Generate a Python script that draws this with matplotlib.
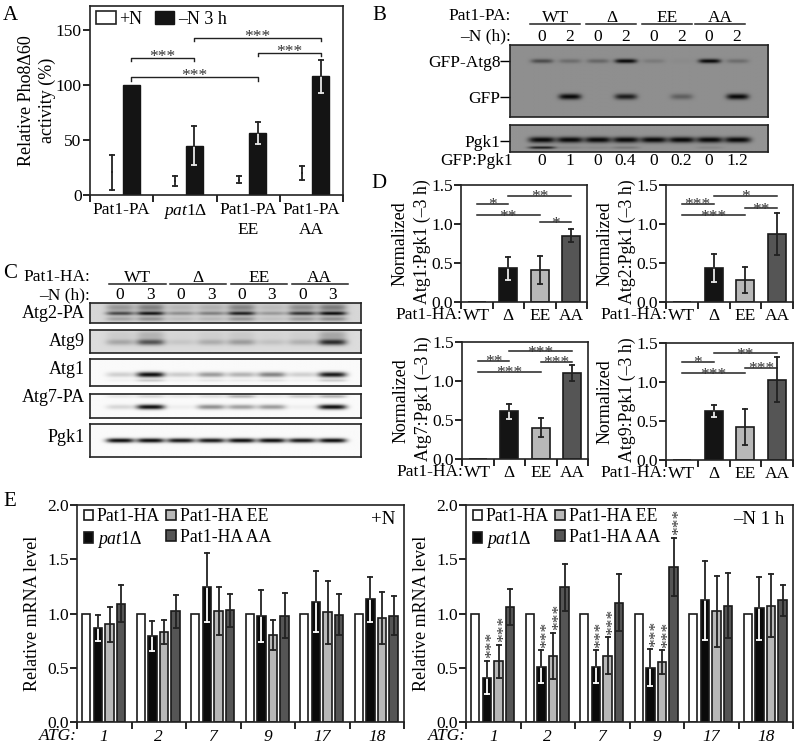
import numpy as np
import matplotlib
matplotlib.use('Agg')
import matplotlib.pyplot as plt
from matplotlib.patches import Patch

plt.rcParams['font.family'] = ['Liberation Serif', 'DejaVu Serif']
plt.rcParams['font.size'] = 12.5
plt.rcParams['mathtext.fontset'] = 'custom'
plt.rcParams['mathtext.it'] = 'Liberation Serif:italic'
plt.rcParams['mathtext.rm'] = 'Liberation Serif'
plt.rcParams['axes.linewidth'] = 1.2
plt.rcParams['axes.edgecolor'] = '#222222'

W, H = 800, 747
PAT1 = r'$\mathit{pat1}$Δ'

# panel A
a_groups = ['Pat1-PA', PAT1, 'Pat1-PA\nEE', 'Pat1-PA\nAA']
a_plus = [20.5, 12.5, 14, 20]
a_plus_err = [15.5, 4.5, 3.5, 6.5]
a_minus = [100, 45, 56, 108]
a_minus_err = [0, 18, 10, 15]
a_brackets = [(0.65, 1.65, 124.5), (0.65, 2.65, 107), (1.65, 3.65, 142.7), (2.65, 3.65, 129.4)]

# panel B, band strength per lane
b_groups = ['WT', 'Δ', 'EE', 'AA']
b_hours = ['0', '2'] * 4
b_ratio = ['0', '1', '0', '0.4', '0', '0.2', '0', '1.2']
b_atg8 = [.5, .25, .3, 1.0, .15, .03, 1.0, .25]
b_gfp = [0, 1, 0, .85, 0, .35, 0, 1]
b_pgk1 = [1, 1, 1, 1, 1, 1, 1, 1]
b_pgk1_low = [.85, .1, .08, .2, 0, 0, .1, 0]

# panel C
c_hours = ['0', '3'] * 4
c_atg2 = [.7, .95, .35, .42, .9, .3, .8, 1.0]
c_atg9 = [.25, .65, .1, .22, .3, .12, .2, .85]
c_atg1 = [.18, 1.0, .2, .4, .3, .5, .18, .95]
c_atg7 = [.15, 1.0, .05, .45, .38, .4, .05, 1.0]
c_atg7_top = [.08, .15, .08, .12, .3, .08, .2, .3]
c_pgk1 = [1, 1, .95, .95, 1, 1, .95, 1]

# panel D
d_groups = ['WT', 'Δ', 'EE', 'AA']
d_atg1 = [0, .43, .41, .85]
d_atg1_err = [0, .15, .18, .08]
d_atg2 = [0, .43, .28, .87]
d_atg2_err = [0, .18, .17, .27]
d_atg7 = [0, .61, .40, 1.10]
d_atg7_err = [0, .10, .12, .10]
d_atg9 = [0, .63, .42, 1.03]
d_atg9_err = [0, .08, .23, .29]
d_atg1_sig = [(.5, 1.5, 1.26, '*'), (1.5, 3.5, 1.36, '**'), (.5, 2.5, 1.115, '**'), (2.5, 3.5, 1.02, '*')]
d_atg2_sig = [(.5, 1.5, 1.26, '***'), (1.5, 3.5, 1.36, '*'), (.5, 2.5, 1.115, '***'), (2.5, 3.5, 1.205, '**')]
d_atg7_sig = [(.5, 1.5, 1.26, '**'), (1.5, 3.5, 1.38, '***'), (.5, 2.5, 1.12, '***'), (2.5, 3.5, 1.25, '***')]
d_atg9_sig = [(.5, 1.5, 1.26, '*'), (1.5, 3.5, 1.37, '**'), (.5, 2.5, 1.115, '***'), (2.5, 3.5, 1.185, '***')]

# panel E
genes = ['1', '2', '7', '9', '17', '18']
e_series = ['Pat1-HA', PAT1, 'Pat1-HA EE', 'Pat1-HA AA']
e_colors = ['white', '#0a0a0a', '#b8b8b8', '#555555']
e_wt = [1, 1, 1, 1, 1, 1]
e1_pat1 = [.87, .79, 1.24, .98, 1.11, 1.13]
e1_pat1_err = [.12, .14, .32, .24, .28, .21]
e1_ee = [.90, .83, 1.02, .80, 1.01, .96]
e1_ee_err = [.16, .11, .22, .14, .29, .24]
e1_aa = [1.09, 1.02, 1.03, .98, .99, .98]
e1_aa_err = [.17, .15, .15, .21, .19, .18]
e2_pat1 = [.41, .51, .51, .50, 1.12, 1.05]
e2_pat1_err = [.15, .15, .15, .17, .36, .29]
e2_ee = [.56, .61, .61, .55, 1.02, 1.07]
e2_ee_err = [.15, .21, .17, .11, .33, .29]
e2_aa = [1.06, 1.24, 1.10, 1.43, 1.07, 1.12]
e2_aa_err = [.17, .22, .26, .27, .30, .14]


def px_axes(x0, y0, x1, y1):
    return fig.add_axes([x0 / W, 1 - y1 / H, (x1 - x0) / W, (y1 - y0) / H])


def px_text(x, y, s, **kw):
    kw.setdefault('ha', 'center')
    kw.setdefault('va', 'center')
    return fig.text(x / W, 1 - y / H, s, **kw)


def err(ax, x, y, e, color='#222222', low='#222222', lw=1.3):
    # the lower half is often white inside a black bar, no cap at the mean
    ax.plot([x, x], [y - e, y], color=low, lw=lw, zorder=4)
    ax.plot([x], [y - e], marker='_', ms=5, mew=lw, color=low, zorder=4)
    ax.plot([x, x], [y, y + e], color=color, lw=lw, zorder=4)
    ax.plot([x], [y + e], marker='_', ms=5, mew=lw, color=color, zorder=4)


def stars(ax, x, y, s, off=-2, size=12.5):
    ax.annotate(s, (x, y), xytext=(0, off), textcoords='offset points', ha='center',
                va='baseline', fontsize=size, color='#333333')


def group_ticks(ax, labels, pad=3, **kw):
    n = len(labels)
    ax.set_xlim(0, n)
    ax.set_xticks(np.arange(n + 1))
    ax.set_xticklabels([])
    ax.set_xticks(np.arange(n) + .5, minor=True)
    ax.set_xticklabels(labels, minor=True, **kw)
    ax.tick_params(axis='x', which='major', length=5, width=1.2)
    ax.tick_params(axis='x', which='minor', length=0, pad=pad)
    ax.tick_params(axis='y', length=5, width=1.2, pad=1)


def blot(ax, bands, bg, width, left, right):
    # bands are (strength per lane, height in the box, thickness)
    h, w = 90, 320
    yy, xx = np.mgrid[0:1:h * 1j, left:right:w * 1j]
    img = np.full((h, w), float(bg))
    for levels, yc, sy in bands:
        for lane, level in enumerate(levels):
            shape = np.exp(-((xx - lane) / width) ** 4) * np.exp(-((yy - yc) / sy) ** 2)
            img *= 1 - .95 * level * shape
    ax.imshow(img, cmap='gray', vmin=0, vmax=1, aspect='auto', extent=(left, right, 1, 0),
              interpolation='bilinear')
    ax.set_xticks([])
    ax.set_yticks([])


fig = plt.figure(figsize=(W / 100, H / 100), dpi=100)

# A
ax = px_axes(90, 6, 343, 195)
x = np.arange(4)
ax.bar(x + .65, a_minus, .27, color='#141414', edgecolor='#141414')
for i in range(4):
    err(ax, i + .35, a_plus[i], a_plus_err[i])
    if a_minus_err[i]:
        err(ax, i + .65, a_minus[i], a_minus_err[i], low='#e8e8e8')
for x1, x2, y in a_brackets:
    ax.plot([x1, x1, x2, x2], [y - 3, y, y, y - 3], color='#222222', lw=1)
    stars(ax, (x1 + x2) / 2, y, '***')
ax.set_ylim(0, 172)
ax.set_yticks([0, 50, 100, 150])
group_ticks(ax, a_groups, pad=5, linespacing=1.3)
ax.set_ylabel('Relative Pho8Δ60\nactivity (%)', labelpad=0, linespacing=1.25, fontsize=13)
ax.legend(handles=[Patch(fc='white', ec='#222222', lw=1.2, label='+N'),
                   Patch(fc='#141414', ec='#141414', label='–N 3 h')],
          ncol=2, loc='upper left', bbox_to_anchor=(.024, .975), frameon=False, borderaxespad=0, borderpad=0,
          handlelength=1.08, handleheight=.7, handletextpad=.2, columnspacing=.7, fontsize=13)

# B
lanes_left, lanes_right = -1.136, 8.11
ax = px_axes(510, 45, 768, 117)
blot(ax, [(b_atg8, .22, .03), (b_gfp, .72, .04)], .56, .4, lanes_left, lanes_right)
ax.set_yticks([.22, .72])
ax.set_yticklabels(['GFP-Atg8', 'GFP'])
ax.tick_params(axis='y', length=7, width=1, pad=0)
ax.set_xticks(np.arange(8))
ax.set_xticklabels(b_hours)
ax.xaxis.tick_top()
ax.tick_params(axis='x', length=0, pad=0)
for i, name in enumerate(b_groups):
    sp = [0, 0, 0, -.1][i]
    ax.plot([2 * i - .42 + sp, 2 * i + 1.38 + sp], [-.29, -.29], color='#222222', lw=1.1, clip_on=False)
    ax.text(2 * i + .5 + sp, -.27, name, ha='center', va='bottom')
ax.set_xlim(lanes_left, lanes_right)
ax.set_ylim(1, 0)
px_text(511, 16, 'Pat1-PA:', ha='right')
px_text(511, 36, '–N (h):', ha='right')

ax = px_axes(510, 125, 768, 152)
blot(ax, [(b_pgk1, .55, .11), (b_pgk1_low, .84, .05)], .58, .48, lanes_left, lanes_right)
ax.set_yticks([.58])
ax.set_yticklabels(['Pgk1'])
ax.tick_params(axis='y', length=7, width=1, pad=0)
ax.set_xticks(np.arange(8))
ax.set_xticklabels(b_ratio)
ax.tick_params(axis='x', length=0, pad=1)
px_text(513, 161, 'GFP:Pgk1', ha='right')

# C
c_left, c_right = -.987, 7.93
c_rows = [
    ('Atg2-PA', 303, 323, 313, .84, [(c_atg2, .52, .1), ([v * .45 for v in c_atg2], .22, .2), ([v * .35 for v in c_atg2], .8, .12)]),
    ('Atg9', 330, 353, 342, .86, [(c_atg9, .55, .13), ([v * .3 for v in c_atg9], .25, .2)]),
    ('Atg1', 359, 386, 370, .98, [(c_atg1, .58, .1), ([v * .2 for v in c_atg1], .8, .05)]),
    ('Atg7-PA', 394, 418, 398, .98, [(c_atg7, .56, .1), (c_atg7_top, .13, .07)]),
    ('Pgk1', 424, 457, 438, .98, [(c_pgk1, .5, .07)]),
]
for name, y0, y1, ylab, bg, bands in c_rows:
    ax = px_axes(90, y0, 361, y1)
    blot(ax, bands, bg, .47, c_left, c_right)
    px_text(85, ylab, name, ha='right', fontsize=13)
    if name == 'Atg2-PA':
        ax.set_xticks(np.arange(8))
        ax.set_xticklabels(c_hours)
        ax.xaxis.tick_top()
        ax.tick_params(axis='x', length=0, pad=0)
        for i, group in enumerate(d_groups):
            x0 = 2 * i - .35
            ax.plot([x0, x0 + 1.85], [-.95, -.95], color='#222222', lw=1.1, clip_on=False)
            ax.text(x0 + .92, -.85, group, ha='center', va='bottom')
        ax.set_xlim(c_left, c_right)
        ax.set_ylim(1, 0)
px_text(90, 277, 'Pat1-HA:', ha='right')
px_text(90, 295, '–N (h):', ha='right')

# D
d_panels = [
    (461, 185, 587, 302, d_atg1, d_atg1_err, d_atg1_sig, 'Atg1:Pgk1 (–3 h)'),
    (666, 185, 793, 302, d_atg2, d_atg2_err, d_atg2_sig, 'Atg2:Pgk1 (–3 h)'),
    (462, 342, 588, 459, d_atg7, d_atg7_err, d_atg7_sig, 'Atg7:Pgk1 (–3 h)'),
    (666, 343, 793, 460, d_atg9, d_atg9_err, d_atg9_sig, 'Atg9:Pgk1 (–3 h)'),
]
d_colors = ['white', '#141414', '#b8b8b8', '#555555']
for x0, y0, x1, y1, vals, errs, sig, label in d_panels:
    ax = px_axes(x0, y0, x1, y1)
    pos = np.arange(4) + .5
    ax.bar(pos, vals, .56, color=d_colors, edgecolor='#1a1a1a', lw=1.2)
    for i in range(1, 4):
        err(ax, pos[i], vals[i], errs[i], low='#e8e8e8' if i == 1 else '#222222')
    for xa, xb, y, s in sig:
        ax.plot([xa, xb], [y, y], color='#222222', lw=1.1)
        stars(ax, (xa + xb) / 2, y, s, off=-4)
    ax.set_ylim(0, 1.5)
    ax.set_yticks([0, .5, 1, 1.5])
    ax.set_yticklabels(['0.0', '0.5', '1.0', '1.5'])
    group_ticks(ax, d_groups, pad=4)
    px_text(x0 - 61, (y0 + y1) / 2, 'Normalized', rotation=90, fontsize=13)
    px_text(x0 - 39, (y0 + y1) / 2 - 2, label, rotation=90, fontsize=12.8)
    px_text(x0 + 1, y1 + 13, 'Pat1-HA:', ha='right')

# E
e_panels = [
    (77, 404, e1_pat1, e1_pat1_err, e1_ee, e1_ee_err, e1_aa, e1_aa_err, '+N', 395),
    (466, 793, e2_pat1, e2_pat1_err, e2_ee, e2_ee_err, e2_aa, e2_aa_err, '–N 1 h', 784),
]
offsets = [.17, .385, .6, .81]
for x0, x1, pv, pe, ev, ee, av, ae, tag, tag_x in e_panels:
    ax = px_axes(x0, 505, x1, 722)
    pos = np.arange(6)
    for off, vals, col in zip(offsets, [e_wt, pv, ev, av], e_colors):
        ax.bar(pos + off, vals, .155, color=col, edgecolor='#1a1a1a', lw=1.2)
    for i in pos:
        err(ax, i + offsets[1], pv[i], pe[i], low='white')
        err(ax, i + offsets[2], ev[i], ee[i])
        err(ax, i + offsets[3], av[i], ae[i])
    ax.set_ylim(0, 2)
    ax.set_yticks([0, .5, 1, 1.5, 2])
    ax.set_yticklabels(['0.0', '0.5', '1.0', '1.5', '2.0'])
    group_ticks(ax, genes, pad=5, style='italic')
    ax.set_ylabel('Relative mRNA level', labelpad=4, fontsize=13)
    handles = [Patch(fc=c, ec='#1a1a1a', lw=1.2, label=s) for c, s in zip(e_colors, e_series)]
    ax.legend(handles=handles, ncol=2, loc='upper left', bbox_to_anchor=(.02, .985), frameon=False,
              borderaxespad=0, handlelength=.55, handleheight=.55, handletextpad=.2,
              columnspacing=.35, labelspacing=.2, borderpad=0, fontsize=12.8)
    px_text(tag_x, 519, tag, ha='right', fontsize=13.5)
    px_text(x0, 736, 'ATG:', ha='right', style='italic')
    if tag != '+N':
        for k in range(4):
            ax.annotate('***', (k + offsets[1], pv[k] + pe[k]), xytext=(4, 2), textcoords='offset points',
                        rotation=90, ha='center', va='bottom', color='#333333')
            ax.annotate('***', (k + offsets[2], ev[k] + ee[k]), xytext=(4, 2), textcoords='offset points',
                        rotation=90, ha='center', va='bottom', color='#333333')
        ax.annotate('***', (3 + offsets[3], av[3] + ae[3]), xytext=(4, 2), textcoords='offset points',
                    rotation=90, ha='center', va='bottom', color='#333333')

# panel letters
for letter, lx, ly in [('A', 10, 15), ('B', 379, 15), ('C', 10, 274), ('D', 379, 183), ('E', 10, 502)]:
    px_text(lx, ly, letter, fontsize=15)

fig.savefig('out.png', dpi=100)
